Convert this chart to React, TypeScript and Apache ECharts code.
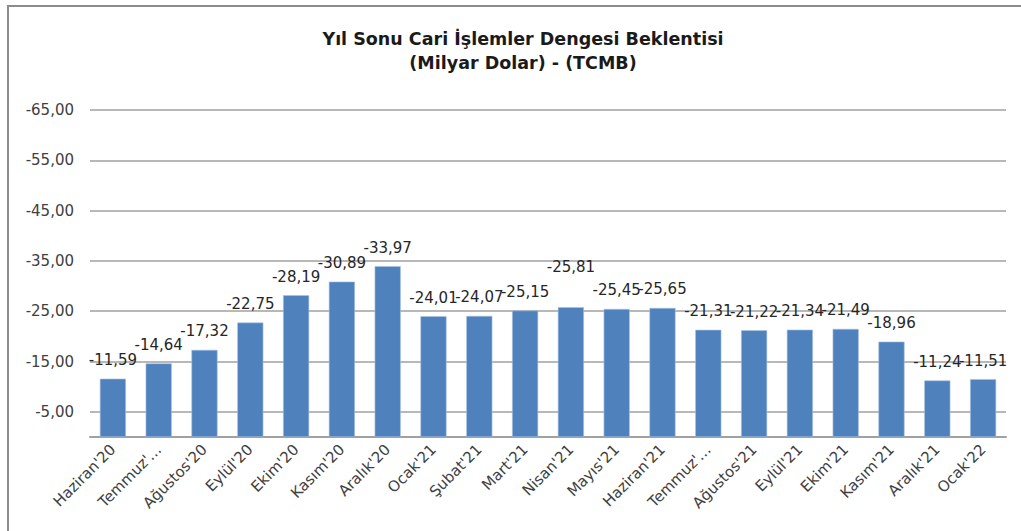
import React, { useEffect, useRef } from "react";
import * as echarts from "echarts";

const categories = [
  "Haziran'20", "Temmuz'…", "Ağustos'20", "Eylül'20", "Ekim'20", "Kasım'20", "Aralık'20",
  "Ocak'21", "Şubat'21", "Mart'21", "Nisan'21", "Mayıs'21", "Haziran'21", "Temmuz'…",
  "Ağustos'21", "Eylül'21", "Ekim'21", "Kasım'21", "Aralık'21", "Ocak'22",
];
const values = [
  -11.59, -14.64, -17.32, -22.75, -28.19, -30.89, -33.97, -24.01, -24.07, -25.15,
  -25.81, -25.45, -25.65, -21.31, -21.22, -21.34, -21.49, -18.96, -11.24, -11.51,
];
const yMin = -65;
const yMax = 0;
const tickStep = 10;
const tickOffset = 5; // ticks at -5, -15, ... -65
const titleText = "Yıl Sonu Cari İşlemler Dengesi Beklentisi\n(Milyar Dolar) - (TCMB)";

const FONT = "DejaVu Sans";
const fmt = (v: number) => v.toFixed(2).replace(".", ",");

export default function App() {
  const ref = useRef<HTMLDivElement>(null);
  useEffect(() => {
    if (!ref.current) return;
    const chart = echarts.init(ref.current, null, { renderer: "svg" });
    chart.setOption({
      animation: false,
      backgroundColor: "#ffffff",
      textStyle: { fontFamily: FONT },
      title: {
        text: titleText,
        left: 518,
        top: 22,
        textAlign: "center",
        textStyle: { fontFamily: FONT, fontSize: 17.5, fontWeight: "bold", color: "#1a1a1a", lineHeight: 24 },
      },
      graphic: [
        {
          type: "rect",
          shape: { x: 8, y: 6, width: 1100, height: 700 },
          style: { fill: "none", stroke: "#8c8c8c", lineWidth: 2 },
          silent: true,
        },
      ],
      grid: { left: 90, right: 15, top: 110, bottom: 94, containLabel: false },
      xAxis: {
        type: "category",
        data: categories,
        position: "bottom",
        axisLine: { show: true, onZero: false, lineStyle: { color: "#a0a0a0", width: 2 } },
        axisTick: { show: false },
        axisLabel: {
          rotate: 45,
          interval: 0,
          margin: 10,
          fontFamily: FONT,
          fontSize: 15,
          color: "#404040",
        },
      },
      yAxis: [
        {
          type: "value",
          inverse: true,
          min: yMin,
          max: yMax,
          show: false,
        },
        {
          type: "value",
          inverse: true,
          position: "left",
          min: yMin + tickOffset,
          max: yMax + tickOffset,
          interval: tickStep,
          axisLine: { show: false },
          axisTick: { show: false },
          axisLabel: {
            showMaxLabel: false,
            margin: 16,
            fontFamily: FONT,
            fontSize: 15,
            color: "#404040",
            formatter: (u: number) => fmt(Math.round(u) - tickOffset),
          },
          splitLine: { show: true, lineStyle: { color: "#a0a0a0", width: 1.5 } },
        },
      ],
      series: [
        {
          type: "bar",
          yAxisIndex: 0,
          data: values.map((v, i) =>
            i === 10 ? { value: v, label: { distance: 33 } } : v
          ),
          barWidth: "57%",
          itemStyle: { color: "#4f81bd", borderColor: "#a9c3e3", borderWidth: 0.6 },
          label: {
            show: true,
            position: "top",
            distance: 11,
            fontFamily: FONT,
            fontSize: 15,
            color: "#262626",
            formatter: (p: any) => fmt(p.value),
          },
        },
      ],
    });
    return () => chart.dispose();
  }, []);
  return (
    <div
      ref={ref}
      style={{ position: "absolute", left: 0, top: 0, width: 1021, height: 531 }}
    />
  );
}
